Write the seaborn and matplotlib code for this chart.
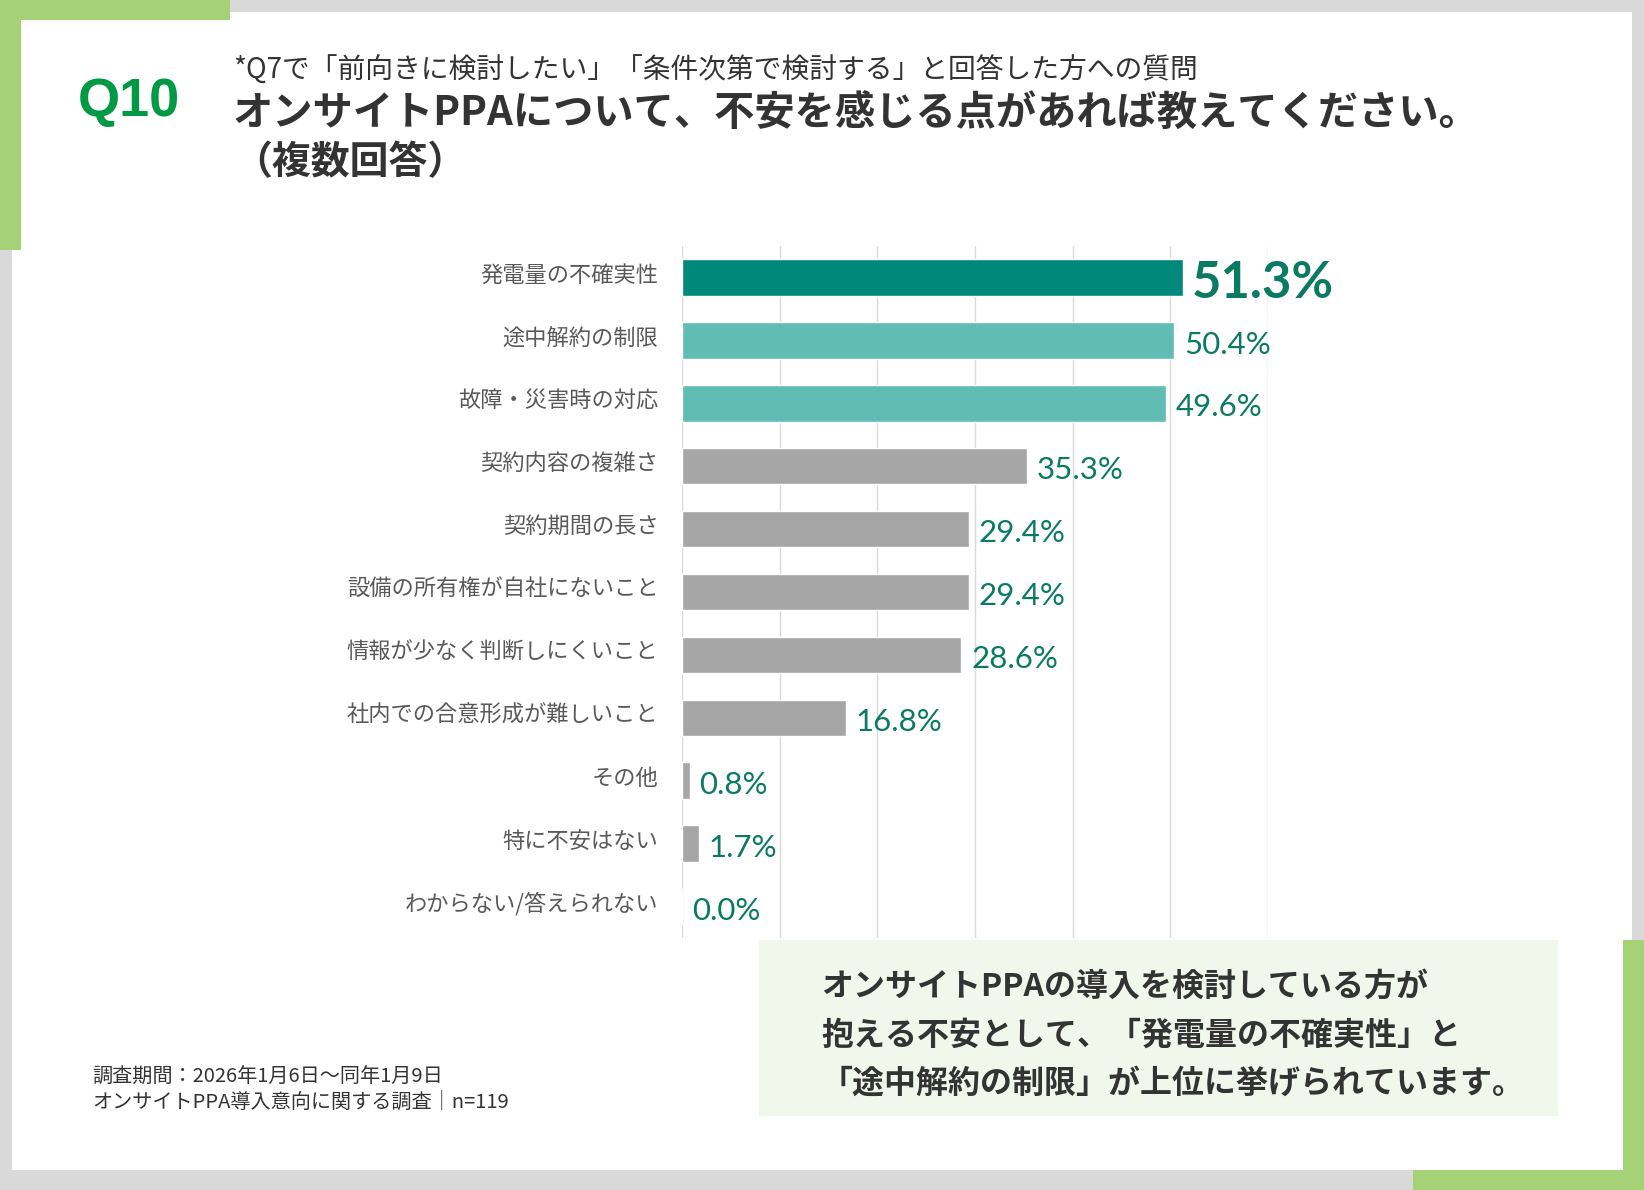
import matplotlib
matplotlib.use('Agg')
import matplotlib.pyplot as plt
import seaborn as sns
import pandas as pd
from matplotlib.patches import Rectangle
from matplotlib.transforms import ScaledTranslation

sns.set_style('white')
plt.rcParams['font.family'] = ['Noto Sans CJK JP', 'DejaVu Sans']

# data
categories = ['発電量の不確実性', '途中解約の制限', '故障・災害時の対応', '契約内容の複雑さ',
              '契約期間の長さ', '設備の所有権が自社にないこと', '情報が少なく判断しにくいこと',
              '社内での合意形成が難しいこと', 'その他', '特に不安はない', 'わからない/答えられない']
values = [51.3, 50.4, 49.6, 35.3, 29.4, 29.4, 28.6, 16.8, 0.8, 1.7, 0.0]
bar_colors = ['#00897a', '#5fbdb3', '#5fbdb3'] + ['#a6a6a6'] * 8

W, H = 1644, 1190
GREEN = '#a5d276'

fig = plt.figure(figsize=(W / 100, H / 100), dpi=100)
fig.patch.set_facecolor('#d9d9d9')


def px_rect(x0, y0, x1, y1, color, z=0):
    # rectangle in pixel coords (top-left origin)
    fig.patches.append(Rectangle((x0 / W, 1 - y1 / H), (x1 - x0) / W, (y1 - y0) / H,
                                 transform=fig.transFigure, facecolor=color,
                                 edgecolor='none', zorder=z))


px_rect(12, 12, 1632, 1170, 'white', -2)
px_rect(0, 0, 230, 20, GREEN, -1)
px_rect(0, 0, 21, 250, GREEN, -1)
px_rect(1623, 940, 1644, 1190, GREEN, -1)
px_rect(1413, 1170, 1644, 1190, GREEN, -1)
px_rect(759, 940, 1558, 1116, '#f2f7ec', -1)

# header
fig.text(78 / W, 1 - 102 / H, 'Q10', fontsize=39, fontweight='bold', color='#009a44',
         family=['Liberation Sans', 'DejaVu Sans'], va='center', ha='left')
fig.text(233 / W, 1 - 71 / H, '*Q7で「前向きに検討したい」「条件次第で検討する」と回答した方への質問',
         fontsize=20, color='#333333', va='center', ha='left')
fig.text(233 / W, 1 - 113 / H, 'オンサイトPPAについて、不安を感じる点があれば教えてください。',
         fontsize=29, fontweight='bold', color='#333333', va='center', ha='left')
fig.text(233 / W, 1 - 163 / H, '（複数回答）',
         fontsize=28, fontweight='bold', color='#333333', va='center', ha='left')

# chart
ax = fig.add_axes([682 / W, 1 - 938 / H, (1268 - 682) / W, (938 - 246) / H])
ax.set_zorder(2)
ax.set_facecolor('none')
df = pd.DataFrame({'item': categories, 'value': values})
sns.barplot(data=df, x='value', y='item', hue='item', palette=dict(zip(categories, bar_colors)),
            legend=False, width=0.58, saturation=1, ax=ax, zorder=3)
ax.set_xlim(0, 60)
ax.set_ylim(len(categories) - 0.5, -0.5)
ax.set_xticks(range(0, 61, 10))
ax.set_xticklabels([])
ax.grid(axis='x', color='#d9d9d9', lw=1, zorder=0)
ax.set_axisbelow(True)
for s in ax.spines.values():
    s.set_visible(False)
ax.tick_params(axis='y', length=0, pad=17, labelsize=16, labelcolor='#595959')
ax.tick_params(axis='x', length=0)
ax.set_xlabel('')
ax.set_ylabel('')
for lbl in ax.get_yticklabels():
    lbl.set_transform(lbl.get_transform() + ScaledTranslation(0, 5 / 100, fig.dpi_scale_trans))

for i, v in enumerate(values):
    if i == 0:
        ax.annotate(f'{v:.1f}%', xy=(v, i), xytext=(6, -4), textcoords='offset points',
                    fontsize=36.5, fontweight='bold', color='#0b7a62', family=['Lato', 'DejaVu Sans'],
                    va='center', ha='left', annotation_clip=False)
    else:
        ax.annotate(f'{v:.1f}%', xy=(v, i), xytext=(7, -3), textcoords='offset points',
                    fontsize=22.5, color='#0b7a62', family=['Lato', 'DejaVu Sans'],
                    va='center', ha='left', annotation_clip=False)

# footer
fig.text(92 / W, 1 - 1077 / H, '調査期間：2026年1月6日～同年1月9日', fontsize=14.5,
         color='#333333', va='center', ha='left')
fig.text(92 / W, 1 - 1102 / H, 'オンサイトPPA導入意向に関する調査│n=119', fontsize=14.5,
         color='#333333', va='center', ha='left')

# summary box text
summary = ['オンサイトPPAの導入を検討している方が',
           '抱える不安として、「発電量の不確実性」と',
           '「途中解約の制限」が上位に挙げられています。']
for k, line in enumerate(summary):
    fig.text(821 / W, 1 - (987 + 48.5 * k) / H, line, fontsize=23, fontweight='bold',
             color='#333333', va='center', ha='left', zorder=5)

fig.savefig('out.png', dpi=100, facecolor=fig.get_facecolor())
